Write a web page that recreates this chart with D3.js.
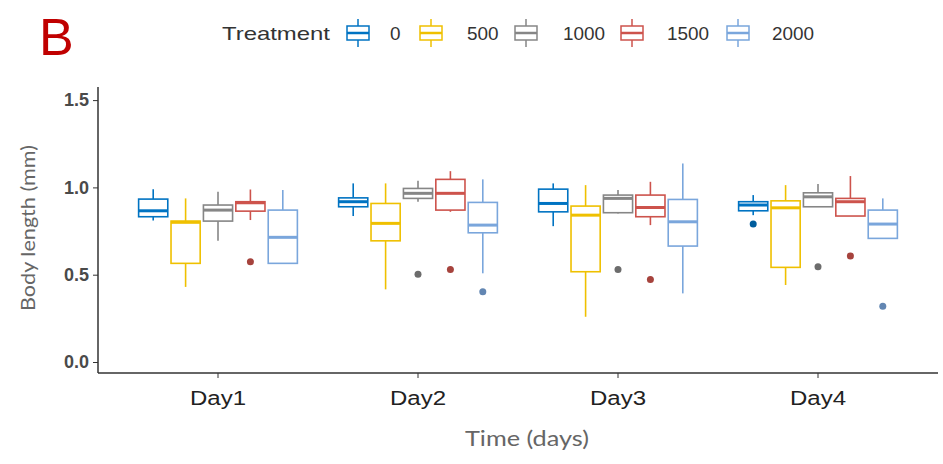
<!DOCTYPE html>
<html>
<head>
<meta charset="utf-8">
<script src="https://cdn.jsdelivr.net/npm/d3@7"></script>
<style>
  html, body { margin: 0; padding: 0; background: #fff; }
  svg { display: block; }
</style>
</head>
<body>
<svg id="chart" width="943" height="464"></svg>
<script>
// Categories and groups
const days = ["Day1", "Day2", "Day3", "Day4"];
const treatments = ["0", "500", "1000", "1500", "2000"];
const colors = ["#0073C2", "#EFC000", "#868686", "#CD534C", "#7AA6DC"];
const yTicks = [0, 0.5, 1.0, 1.5];

// Box statistics per treatment, one row per day: [lower whisker, Q1, median, Q3, upper whisker]
const stats0    = [[0.81, 0.832, 0.866, 0.933, 0.99], [0.836, 0.889, 0.918, 0.94, 1.023], [0.778, 0.86, 0.908, 0.99, 1.023], [0.841, 0.866, 0.899, 0.918, 0.956]];
const stats500  = [[0.43, 0.565, 0.80, 0.807, 0.937], [0.416, 0.694, 0.794, 0.908, 1.023], [0.259, 0.517, 0.841, 0.893, 1.013], [0.441, 0.542, 0.883, 0.923, 1.013]];
const stats1000 = [[0.694, 0.807, 0.87, 0.899, 0.975], [0.918, 0.937, 0.966, 0.994, 1.038], [0.85, 0.855, 0.937, 0.956, 0.985], [0.889, 0.889, 0.946, 0.969, 1.019]];
const stats1500 = [[0.813, 0.864, 0.912, 0.918, 0.988], [0.86, 0.87, 0.966, 1.046, 1.093], [0.784, 0.832, 0.885, 0.956, 1.032], [0.836, 0.836, 0.918, 0.937, 1.065]];
const stats2000 = [[0.565, 0.565, 0.714, 0.87, 0.985], [0.508, 0.74, 0.784, 0.914, 1.046], [0.393, 0.664, 0.803, 0.931, 1.137], [0.708, 0.708, 0.79, 0.87, 0.937]];

// Outliers per treatment, one list per day
const out0    = [[], [], [], [0.79]];
const out500  = [[], [], [], []];
const out1000 = [[], [0.502], [0.53], [0.546]];
const out1500 = [[0.574], [0.53], [0.473], [0.607]];
const out2000 = [[], [0.402], [], [0.32]];

const allStats = [stats0, stats500, stats1000, stats1500, stats2000];
const allOut = [out0, out500, out1000, out1500, out2000];

const svg = d3.select("#chart");
const stretch = 1.2; // horizontal text widening used for the larger labels

const x = d3.scaleBand().domain(days).range([118, 918]).padding(0);
const xInner = d3.scaleBand().domain(treatments).range([-81, 81]).paddingInner(0.1).paddingOuter(0.05);
const y = d3.scaleLinear().domain([-0.063, 1.575]).range([373, 87]);
const color = d3.scaleOrdinal().domain(treatments).range(colors);

function widen(sel, k) {
  sel.each(function () {
    const w = this.getComputedTextLength();
    d3.select(this).attr("textLength", w * k).attr("lengthAdjust", "spacingAndGlyphs");
  });
}

// Boxes
const rows = [];
treatments.forEach((t, ti) => {
  days.forEach((d, di) => {
    const s = allStats[ti][di];
    rows.push({ day: d, trt: t, lo: s[0], q1: s[1], med: s[2], q3: s[3], hi: s[4], out: allOut[ti][di] });
  });
});

const g = svg.append("g");
const bw = xInner.bandwidth();
const boxes = g.selectAll("g.box").data(rows).join("g")
  .attr("class", "box")
  .attr("transform", d => `translate(${x(d.day) + x.bandwidth() / 2 + xInner(d.trt) + bw / 2},0)`);

boxes.append("line")
  .attr("x1", 0).attr("x2", 0)
  .attr("y1", d => y(d.hi)).attr("y2", d => y(d.q3))
  .attr("stroke", d => color(d.trt)).attr("stroke-width", 1.6);
boxes.append("line")
  .attr("x1", 0).attr("x2", 0)
  .attr("y1", d => y(d.q1)).attr("y2", d => y(d.lo))
  .attr("stroke", d => color(d.trt)).attr("stroke-width", 1.6);
boxes.append("rect")
  .attr("x", -bw / 2).attr("width", bw)
  .attr("y", d => y(d.q3)).attr("height", d => Math.max(0.5, y(d.q1) - y(d.q3)))
  .attr("fill", "#fff").attr("fill-opacity", 0.9)
  .attr("stroke", d => color(d.trt)).attr("stroke-width", 1.6);
boxes.append("line")
  .attr("x1", -bw / 2).attr("x2", bw / 2)
  .attr("y1", d => y(d.med)).attr("y2", d => y(d.med))
  .attr("stroke", d => color(d.trt)).attr("stroke-width", 3);
boxes.selectAll("circle").data(d => d.out.map(v => ({ v, trt: d.trt }))).join("circle")
  .attr("cx", 0).attr("cy", d => y(d.v)).attr("r", 3.5)
  .attr("fill", d => d3.color(color(d.trt)).darker(0.6));

// Axes
const yAxis = svg.append("g").attr("transform", "translate(98,0)")
  .call(d3.axisLeft(y).tickValues(yTicks).tickFormat(d3.format(".1f")).tickSize(5).tickPadding(4));
yAxis.select(".domain").attr("d", `M0,${y.range()[1]}V${y.range()[0]}`).attr("stroke", "#333").attr("stroke-width", 1.5);
yAxis.selectAll(".tick line").attr("stroke", "#333");
yAxis.selectAll(".tick text")
  .attr("font-family", "Liberation Sans, Arial, sans-serif").attr("font-size", 18).attr("font-weight", "bold")
  .attr("fill", "#4a4a4a");

const xAxis = svg.append("g").attr("transform", "translate(0,373)")
  .call(d3.axisBottom(x).tickSize(5).tickPadding(13));
xAxis.select(".domain").attr("d", `M98,0H938`).attr("stroke", "#333").attr("stroke-width", 1.5);
xAxis.selectAll(".tick line").attr("stroke", "#333");
xAxis.selectAll(".tick text")
  .attr("font-family", "Liberation Sans, Arial, sans-serif").attr("font-size", 20)
  .attr("fill", "#222")
  .call(widen, stretch);

// Axis titles
svg.append("text").text("Time (days)")
  .attr("x", 527).attr("y", 446).attr("text-anchor", "middle")
  .attr("font-family", "Lato, sans-serif").attr("font-size", 21).attr("fill", "#666")
  .attr("textLength", 124).attr("lengthAdjust", "spacingAndGlyphs");
svg.append("text").text("Body length (mm)")
  .attr("transform", "translate(35,228) rotate(-90)").attr("text-anchor", "middle")
  .attr("font-family", "Lato, sans-serif").attr("font-size", 20).attr("fill", "#666")
  .attr("textLength", 166).attr("lengthAdjust", "spacingAndGlyphs");

// Panel letter
svg.append("text").text("B")
  .attr("x", 39).attr("y", 55)
  .attr("font-family", "Liberation Sans, Arial, sans-serif").attr("font-size", 52)
  .attr("fill", "#c00000");

// Legend
const leg = svg.append("g").attr("transform", "translate(0,33)");
leg.append("text").text("Treatment")
  .attr("x", 222).attr("y", 7)
  .attr("font-family", "Liberation Sans, Arial, sans-serif").attr("font-size", 19).attr("fill", "#333")
  .attr("textLength", 108).attr("lengthAdjust", "spacingAndGlyphs");
const keyX = [358, 431, 526, 632, 738];
const labX = [390, 467, 563, 667, 772];
const kw = 22;
const items = leg.selectAll("g.item").data(treatments).join("g").attr("class", "item");
items.append("line")
  .attr("x1", (d, i) => keyX[i]).attr("x2", (d, i) => keyX[i])
  .attr("y1", -14).attr("y2", 14)
  .attr("stroke", d => color(d)).attr("stroke-width", 1.5);
items.append("rect")
  .attr("x", (d, i) => keyX[i] - kw / 2).attr("width", kw)
  .attr("y", -7).attr("height", 14)
  .attr("fill", "#fff").attr("stroke", d => color(d)).attr("stroke-width", 1.5);
items.append("line")
  .attr("x1", (d, i) => keyX[i] - kw / 2).attr("x2", (d, i) => keyX[i] + kw / 2)
  .attr("y1", 0).attr("y2", 0)
  .attr("stroke", d => color(d)).attr("stroke-width", 2.5);
items.append("text").text(d => d)
  .attr("x", (d, i) => labX[i]).attr("y", 7)
  .attr("font-family", "Liberation Sans, Arial, sans-serif").attr("font-size", 18).attr("fill", "#333")
  .call(widen, 1.05);
</script>
</body>
</html>
